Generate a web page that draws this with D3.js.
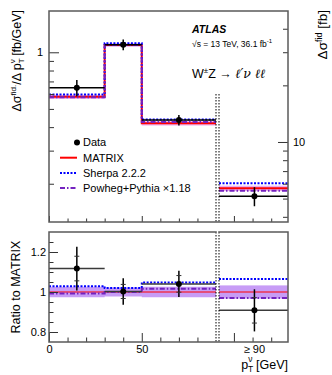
<!DOCTYPE html>
<html>
<head>
<meta charset="utf-8">
<script src="https://cdn.jsdelivr.net/npm/d3@7"></script>
<style>
  body { margin: 0; background: #fff; }
  svg { display: block; font-family: "Liberation Sans", Arial, sans-serif; }
</style>
</head>
<body>
<div id="chart"></div>
<script>
// bins in p_T^nu [GeV]; the last value of every series is the >= 90 GeV bin (in fb, right axis)
const binEdges = [0, 30, 50, 90]
const binCentres = [15, 40, 70, 111]
const dataXsec = [0.648, 1.097, 0.436, 5.15]
const matrixXsec = [0.580, 1.094, 0.419, 5.67]
const sherpaXsec = [0.597, 1.116, 0.439, 6.04]
const powhegXsec = [0.576, 1.094, 0.426, 5.50]
const matrixUnc = [0.026, 0.022, 0.026, 0.033]
const dataTotErr = [0.098, 0.066, 0.063, 0.116]
const dataStatErr = [0.055, 0.035, 0.04, 0.07]
const leftMajor = [1], leftMinor = [0.2, 0.3, 0.4, 0.5, 0.6, 0.7, 0.8, 0.9]
const rightMajor = [10], rightMinor = [4, 5, 6, 7, 8, 9, 20, 30, 40]
const ratioMajor = [0.8, 1, 1.2]
const ratioMinor = [0.8, 0.85, 0.9, 0.95, 1.05, 1.1, 1.15, 1.2, 1.25]
const xMajor = [0, 50], xMinor = [10, 20, 30, 40, 60, 70, 80]
const xoMajor = [100], xoMinor = [110, 120]
const legendItems = ['Data', 'MATRIX', 'Sherpa 2.2.2', 'Powheg+Pythia ×1.18']

const W = 332, H = 375
const L = 49, R = 288, S1 = 216, S2 = 219
const T1 = 11, B1 = 222, T2 = 232, B2 = 342

const svg = d3.select('#chart').append('svg').attr('width', W).attr('height', H)

const x = d3.scaleLinear().domain([0, 90]).range([L, S1])
const xo = d3.scaleLinear().domain([92, 129]).range([S2, R])
const y = d3.scaleLog().domain([0.1252, 1.658]).range([B1, T1])
const yo = d3.scaleLog().domain([3.754, 49.7]).range([B1, T1])
const yr = d3.scaleLinear().domain([0.75, 1.30]).range([B2, T2])

const series = [
    { name: 'matrix', vals: matrixXsec, color: '#ff0000', w: 2, dash: null, rw: 1.2 },
    { name: 'sherpa', vals: sherpaXsec, color: '#0000ff', w: 2, dash: '2,1.5', rw: 2 },
    { name: 'powheg', vals: powhegXsec, color: '#7422c0', w: 2, dash: '5,2,1.5,2', rw: 2 }
]
const bandColor = '#c79cf6'

const stepPts = vals => binEdges.map((e, i) => ({ e, v: vals[Math.min(i, 2)], i: Math.min(i, 2) }))

function stepLine (ys) {
    return d3.line().x(p => x(p.e)).y(p => ys(p.v)).curve(d3.curveStepAfter)
}

// ---------- upper panel ----------
const up = svg.append('g')
const bandUp = stepPts(matrixXsec).map(p => ({ e: p.e, lo: p.v * (1 - matrixUnc[p.i]), hi: p.v * (1 + matrixUnc[p.i]) }))
up.append('path')
    .attr('d', d3.area().x(p => x(p.e)).y0(p => y(p.lo)).y1(p => y(p.hi)).curve(d3.curveStepAfter)(bandUp))
    .attr('fill', '#e596e8').attr('opacity', 0.8)
up.append('rect')
    .attr('x', S2).attr('width', R - S2)
    .attr('y', yo(matrixXsec[3] * (1 + matrixUnc[3])))
    .attr('height', yo(matrixXsec[3] * (1 - matrixUnc[3])) - yo(matrixXsec[3] * (1 + matrixUnc[3])))
    .attr('fill', '#e596e8').attr('opacity', 0.8)

series.forEach(s => {
    up.append('path').attr('d', stepLine(y)(stepPts(s.vals)))
        .attr('fill', 'none').attr('stroke', s.color).attr('stroke-width', s.w)
        .attr('stroke-dasharray', s.dash)
    up.append('line')
        .attr('x1', S2).attr('x2', R).attr('y1', yo(s.vals[3])).attr('y2', yo(s.vals[3]))
        .attr('stroke', s.color).attr('stroke-width', s.w).attr('stroke-dasharray', s.dash)
})

// data, upper
const upData = dataXsec.map((v, i) => ({ v, i, ys: i < 3 ? y : yo }))
up.selectAll('line.dh').data(upData).enter().append('line')
    .attr('x1', d => d.i < 3 ? x(binEdges[d.i]) : S2)
    .attr('x2', d => d.i < 3 ? x(binEdges[d.i + 1]) : R)
    .attr('y1', d => d.ys(d.v)).attr('y2', d => d.ys(d.v))
    .attr('stroke', '#000').attr('stroke-width', 1.5)
up.selectAll('line.de').data(upData).enter().append('line')
    .attr('x1', d => d.i < 3 ? x(binCentres[d.i]) : xo(binCentres[d.i]))
    .attr('x2', d => d.i < 3 ? x(binCentres[d.i]) : xo(binCentres[d.i]))
    .attr('y1', d => d.ys(d.v * (1 + dataTotErr[d.i])))
    .attr('y2', d => d.ys(d.v * (1 - dataTotErr[d.i])))
    .attr('stroke', '#000').attr('stroke-width', 1.5)
up.selectAll('circle').data(upData).enter().append('circle')
    .attr('cx', d => d.i < 3 ? x(binCentres[d.i]) : xo(binCentres[d.i]))
    .attr('cy', d => d.ys(d.v)).attr('r', 3).attr('fill', '#000')

// ---------- ratio panel ----------
const rp = svg.append('g')
const ratioOf = vals => vals.map((v, i) => v / matrixXsec[i])
const bandR = stepPts(matrixUnc).map(p => ({ e: p.e, u: p.v }))
rp.append('path')
    .attr('d', d3.area().x(p => x(p.e)).y0(p => yr(1 - p.u)).y1(p => yr(1 + p.u)).curve(d3.curveStepAfter)(bandR))
    .attr('fill', bandColor)
rp.append('rect').attr('x', S2).attr('width', R - S2)
    .attr('y', yr(1 + matrixUnc[3])).attr('height', yr(1 - matrixUnc[3]) - yr(1 + matrixUnc[3]))
    .attr('fill', bandColor)

series.forEach(s => {
    const r = ratioOf(s.vals)
    rp.append('path').attr('d', stepLine(yr)(stepPts(r)))
        .attr('fill', 'none').attr('stroke', s.color).attr('stroke-width', s.rw)
        .attr('stroke-dasharray', s.dash)
    rp.append('line').attr('x1', S2).attr('x2', R).attr('y1', yr(r[3])).attr('y2', yr(r[3]))
        .attr('stroke', s.color).attr('stroke-width', s.rw).attr('stroke-dasharray', s.dash)
})

const rData = ratioOf(dataXsec).map((v, i) => ({ v, i, cx: i < 3 ? x(binCentres[i]) : xo(binCentres[i]) }))
rp.selectAll('line.dh').data(rData).enter().append('line')
    .attr('x1', d => d.i < 3 ? x(binEdges[d.i]) : S2)
    .attr('x2', d => d.i < 3 ? x(binEdges[d.i + 1]) : R)
    .attr('y1', d => yr(d.v)).attr('y2', d => yr(d.v))
    .attr('stroke', '#3a3a3a').attr('stroke-width', 1.5)
rp.selectAll('line.de').data(rData).enter().append('line')
    .attr('x1', d => d.cx).attr('x2', d => d.cx)
    .attr('y1', d => yr(d.v * (1 + dataTotErr[d.i]))).attr('y2', d => yr(d.v * (1 - dataTotErr[d.i])))
    .attr('stroke', '#000').attr('stroke-width', 1.5)
rData.forEach(d => {
    [1, -1].forEach(sg => {
        rp.append('line').attr('x1', d.cx - 2.5).attr('x2', d.cx + 2.5)
            .attr('y1', yr(d.v * (1 + sg * dataStatErr[d.i]))).attr('y2', yr(d.v * (1 + sg * dataStatErr[d.i])))
            .attr('stroke', '#333').attr('stroke-width', 1)
    })
})
rp.selectAll('circle').data(rData).enter().append('circle')
    .attr('cx', d => d.cx).attr('cy', d => yr(d.v)).attr('r', 3).attr('fill', '#000')

// ---------- separators ----------
;[S1, S2].forEach(sx => {
    [[94, B1], [T2, B2]].forEach(([a, b]) => {
        svg.append('line').attr('x1', sx).attr('x2', sx).attr('y1', a).attr('y2', b)
            .attr('stroke', '#000').attr('stroke-width', 1).attr('stroke-dasharray', '1.5,1.5')
    })
})

// ---------- axes ----------
function styleAxis (g, fs) {
    g.select('.domain').remove()
    g.selectAll('line').attr('stroke', '#333')
    g.selectAll('text').attr('font-size', fs).attr('fill', '#000')
        .attr('font-family', '"Liberation Sans", Arial, sans-serif')
}
function addAxis (axis, tx, ty, fs) {
    const g = svg.append('g').attr('transform', `translate(${tx},${ty})`).call(axis)
    styleAxis(g, fs)
    return g
}
const none = () => ''
addAxis(d3.axisLeft(y).tickValues(leftMajor).tickSize(-10).tickPadding(6).tickFormat(d3.format('d')), L, 0, 11)
addAxis(d3.axisLeft(y).tickValues(leftMinor).tickSize(-5).tickFormat(none), L, 0, 11)
addAxis(d3.axisRight(yo).tickValues(rightMajor).tickSize(-10).tickPadding(5).tickFormat(d3.format('d')), R, 0, 11)
addAxis(d3.axisRight(yo).tickValues(rightMinor).tickSize(-5).tickFormat(none), R, 0, 11)
addAxis(d3.axisBottom(x).tickValues(xMajor).tickSize(-6).tickFormat(none), 0, B1, 11)
addAxis(d3.axisBottom(x).tickValues(xMinor).tickSize(-3.5).tickFormat(none), 0, B1, 11)
addAxis(d3.axisBottom(xo).tickValues(xoMajor).tickSize(-6).tickFormat(none), 0, B1, 11)
addAxis(d3.axisBottom(xo).tickValues(xoMinor).tickSize(-3.5).tickFormat(none), 0, B1, 11)

addAxis(d3.axisLeft(yr).tickValues(ratioMajor).tickSize(-9).tickPadding(3).tickFormat(d => d === 1 ? '1' : d3.format('.1f')(d)), L, 0, 11)
addAxis(d3.axisLeft(yr).tickValues(ratioMinor).tickSize(-4.5).tickFormat(none), L, 0, 11)
addAxis(d3.axisBottom(x).tickValues(xMajor).tickSize(-9).tickPadding(3).tickFormat(d3.format('d')), 0, B2, 11)
addAxis(d3.axisBottom(x).tickValues(xMinor).tickSize(-4.5).tickFormat(none), 0, B2, 11)
addAxis(d3.axisBottom(xo).tickValues(xoMajor).tickSize(-9).tickFormat(none), 0, B2, 11)
addAxis(d3.axisBottom(xo).tickValues(xoMinor).tickSize(-4.5).tickFormat(none), 0, B2, 11)

// frames
;[[T1, B1], [T2, B2]].forEach(([a, b]) => {
    svg.append('rect').attr('x', L).attr('y', a).attr('width', R - L).attr('height', b - a)
        .attr('fill', 'none').attr('stroke', '#5a5a5a').attr('stroke-width', 1.5)
})
svg.append('rect').attr('x', S1 + 0.8).attr('y', T2 - 1).attr('width', S2 - S1 - 1.6).attr('height', 2).attr('fill', '#fff')

// ---------- legend ----------
const lg = svg.append('g').attr('font-size', 11)
legendItems.forEach((t, i) => {
    const ly = 142.5 + i * 15.2
    if (i === 0) {
        lg.append('circle').attr('cx', 77).attr('cy', ly).attr('r', 3).attr('fill', '#000')
    } else {
        const s = series[i - 1]
        lg.append('line').attr('x1', 60).attr('x2', 77).attr('y1', ly).attr('y2', ly)
            .attr('stroke', s.color).attr('stroke-width', 2).attr('stroke-dasharray', s.dash)
    }
    lg.append('text').attr('x', 83).attr('y', ly).attr('dy', '0.36em').text(t)
})

// ---------- labels ----------
svg.append('text').attr('x', 192).attr('y', 33).attr('font-size', 10.5)
    .attr('font-weight', 'bold').attr('font-style', 'italic').text('ATLAS')
const en = svg.append('text').attr('x', 192).attr('y', 47).attr('font-size', 8.5)
en.append('tspan').text('√s = 13 TeV, 36.1 fb')
en.append('tspan').attr('dy', -4).attr('font-size', 6).text('-1')
const proc = svg.append('text').attr('x', 192).attr('y', 78).attr('font-size', 12.5)
proc.append('tspan').text('W')
proc.append('tspan').attr('dy', -5).attr('font-size', 8).text('±')
proc.append('tspan').attr('dy', 5).text('Z → ')
proc.append('tspan').attr('font-style', 'italic').attr('font-family', '"DejaVu Serif", serif').attr('font-size', 12.5).text('ℓ′ν ℓℓ')

const yl = svg.append('text').attr('transform', 'translate(21,10) rotate(-90)')
    .attr('text-anchor', 'end').attr('font-size', 12.5)
yl.append('tspan').text('Δσ')
yl.append('tspan').attr('dy', -5).attr('font-size', 8).text('fid.')
yl.append('tspan').attr('dy', 5).text('/Δ p')
yl.append('tspan').attr('dy', 3).attr('font-size', 8).text('T')
yl.append('tspan').attr('dx', -5).attr('dy', -9).attr('font-size', 8).text('ν')
yl.append('tspan').attr('dy', 6).text(' [fb/GeV]')

const yr2 = svg.append('text').attr('transform', 'translate(327,10) rotate(-90)')
    .attr('text-anchor', 'end').attr('font-size', 13.5)
yr2.append('tspan').text('Δσ')
yr2.append('tspan').attr('dy', -5).attr('font-size', 9).text('fid')
yr2.append('tspan').attr('dy', 5).text(' [fb]')

svg.append('text').attr('transform', 'translate(20,' + (T2 + B2) / 2 + ') rotate(-90)')
    .attr('text-anchor', 'middle').attr('font-size', 12.5).text('Ratio to MATRIX')

svg.append('text').attr('x', xo(binCentres[3])).attr('y', 353).attr('text-anchor', 'middle')
    .attr('font-size', 11).text('≥ 90')
const xl = svg.append('text').attr('x', R).attr('y', 369).attr('text-anchor', 'end').attr('font-size', 12.5)
xl.append('tspan').text('p')
xl.append('tspan').attr('dy', 3).attr('font-size', 8.5).text('T')
xl.append('tspan').attr('dx', -5).attr('dy', -10).attr('font-size', 8.5).text('ν')
xl.append('tspan').attr('dy', 7).text(' [GeV]')
</script>
</body>
</html>
